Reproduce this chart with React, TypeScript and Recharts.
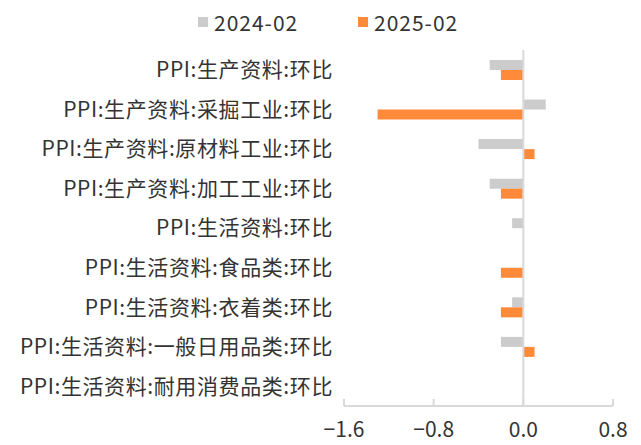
import { BarChart, Bar, XAxis, YAxis, ReferenceLine } from 'recharts';

const categories = [
  'PPI:生产资料:环比',
  'PPI:生产资料:采掘工业:环比',
  'PPI:生产资料:原材料工业:环比',
  'PPI:生产资料:加工工业:环比',
  'PPI:生活资料:环比',
  'PPI:生活资料:食品类:环比',
  'PPI:生活资料:衣着类:环比',
  'PPI:生活资料:一般日用品类:环比',
  'PPI:生活资料:耐用消费品类:环比',
];

const feb2024 = [-0.3, 0.2, -0.4, -0.3, -0.1, 0, -0.1, -0.2, 0];
const feb2025 = [-0.2, -1.3, 0.1, -0.2, 0, -0.2, -0.2, 0.1, 0];

const xTicks = [-1.6, -0.8, 0, 0.8];

const GREY = '#cccccc';
const ORANGE = '#ff8a3a';
const AXIS = '#d9d9d9';
const FONT = '"Noto Sans CJK SC", "Noto Sans", sans-serif';

const data = categories.map((name, i) => ({
  name,
  '2024-02': feb2024[i],
  '2025-02': feb2025[i],
}));

const fmt = (v: number) => {
  const s = Math.abs(v).toFixed(1);
  return v < 0 ? '\u2212' + s : s;
};

const XTick = ({ x, y, payload }: any) => (
  <g>
    <line x1={x} y1={y - 7} x2={x} y2={y} stroke={AXIS} strokeWidth={2} />
    <text x={x} y={y + 31} textAnchor="middle" fill="#333" fontSize={21} fontFamily={FONT}>
      {fmt(payload.value)}
    </text>
  </g>
);

const LegendItem = ({ color, label, left }: { color: string; label: string; left: number }) => (
  <div style={{ position: 'absolute', left, top: 10, display: 'flex', alignItems: 'center' }}>
    <span style={{ width: 10, height: 10, background: color, marginRight: 6, display: 'inline-block' }} />
    <span style={{ fontSize: 21, color: '#333', fontFamily: FONT, lineHeight: '24px', letterSpacing: 1 }}>{label}</span>
  </div>
);

export default function App() {
  return (
    <div style={{ position: 'absolute', left: 0, top: 0, width: 641, height: 445, background: '#fff' }}>
      <LegendItem color={GREY} label="2024-02" left={198} />
      <LegendItem color={ORANGE} label="2025-02" left={358} />
      <BarChart
        width={641}
        height={445}
        data={data}
        layout="vertical"
        margin={{ top: 50, right: 28, left: 0, bottom: 0 }}
        barSize={10}
        barGap={0}
      >
        <XAxis
          type="number"
          domain={[-1.6, 0.8]}
          ticks={xTicks}
          height={39}
          axisLine={{ stroke: AXIS, strokeWidth: 2 }}
          tickLine={false}
          tickSize={0}
          tickMargin={0}
          tick={<XTick />}
          interval={0}
        />
        <YAxis
          type="category"
          dataKey="name"
          width={344}
          axisLine={false}
          tickLine={false}
          tickSize={0}
          tickMargin={11}
          interval={0}
          tick={{ fill: '#333', fontSize: 21, fontFamily: FONT, letterSpacing: 0.6 }}
        />
        <ReferenceLine x={0} stroke={AXIS} strokeWidth={2} />
        <Bar dataKey="2024-02" fill={GREY} isAnimationActive={false} />
        <Bar dataKey="2025-02" fill={ORANGE} isAnimationActive={false} />
      </BarChart>
    </div>
  );
}
